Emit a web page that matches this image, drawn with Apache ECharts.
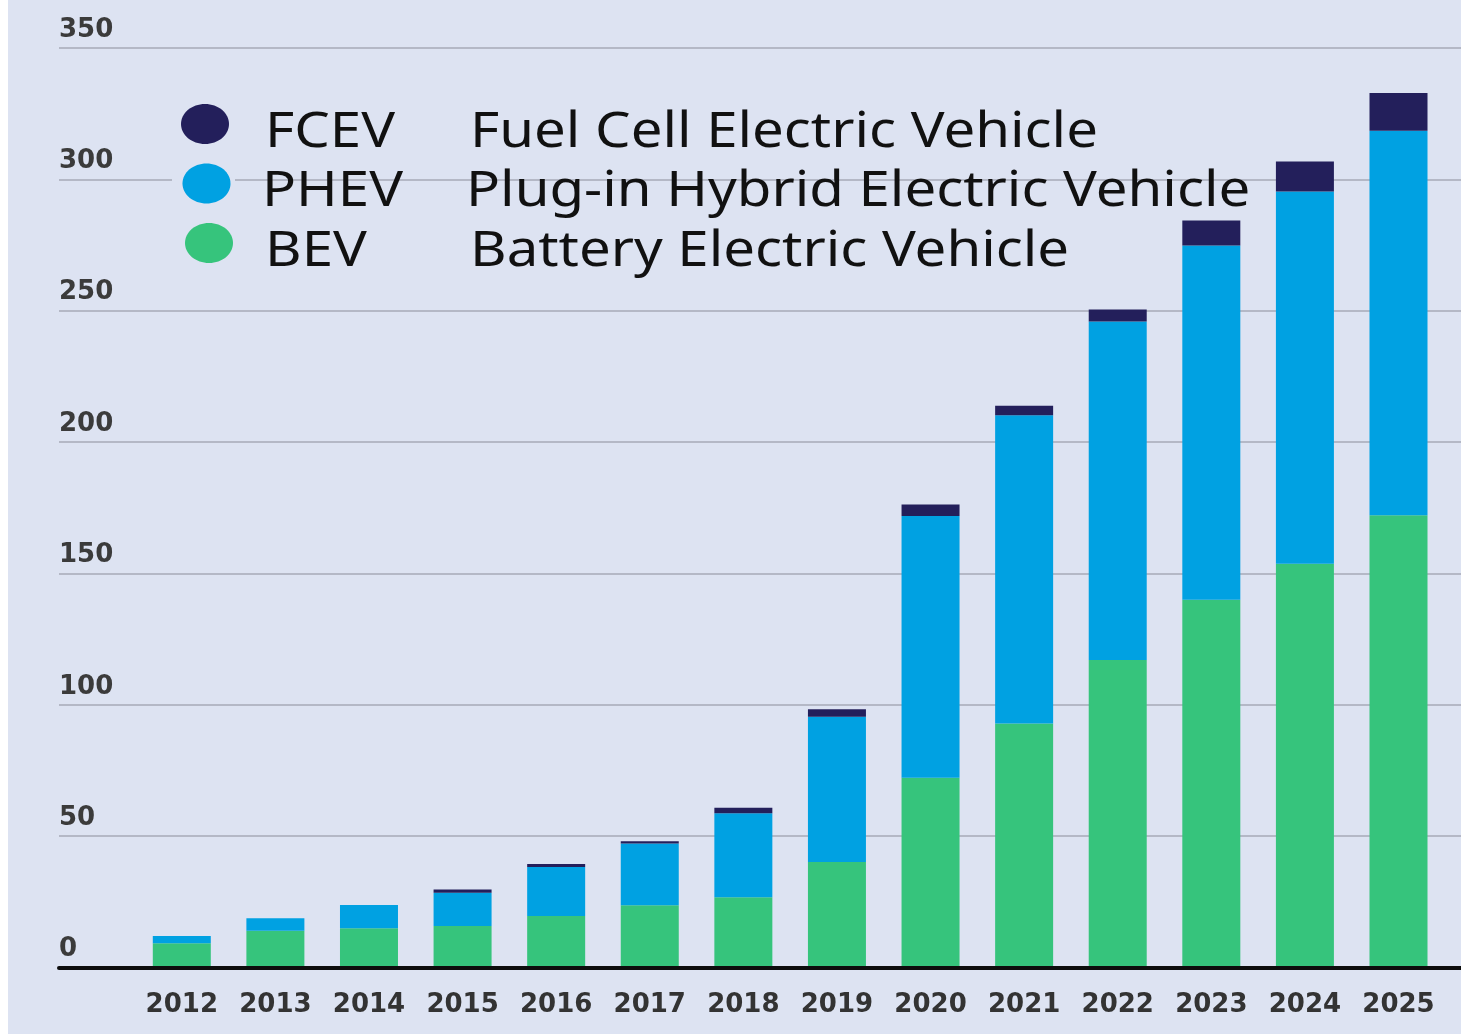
<!DOCTYPE html>
<html>
<head>
<meta charset="utf-8">
<title>Electric vehicle stock by type, 2012–2025</title>
<script src="https://cdn.jsdelivr.net/npm/echarts@6/dist/echarts.min.js"></script>
<style>
  html, body { margin: 0; padding: 0; background: #ffffff; }
  #chart { position: absolute; left: 8px; top: 0; width: 1453px; height: 1034px; background: #dde3f2; }
</style>
</head>
<body>
<div id="chart"></div>
<script>
// Years on the category axis
const years = ['2012', '2013', '2014', '2015', '2016', '2017', '2018', '2019', '2020', '2021', '2022', '2023', '2024', '2025'];

// Stacked values per vehicle type
const bevValues  = [9.2, 14.0, 14.9, 15.8, 19.6, 23.7, 26.7, 40.2, 72.2, 92.9, 117.0, 140.0, 153.7, 172.1];
const phevValues = [2.8, 4.7, 8.9, 12.7, 18.7, 23.5, 32.0, 55.2, 99.7, 117.3, 128.9, 134.8, 141.7, 146.4];
const fcevValues = [0, 0, 0, 1.2, 1.1, 0.9, 2.1, 2.9, 4.3, 3.6, 4.6, 9.5, 11.4, 14.4];

// Legend entries: short name and full description
const typeNames = ['FCEV', 'PHEV', 'BEV'];
const typeDescriptions = [
  'Fuel Cell Electric Vehicle',
  'Plug-in Hybrid Electric Vehicle',
  'Battery Electric Vehicle'
];

// Value axis range and tick step
const yMin = 0;
const yMax = 350;
const yStep = 50;

const bgColor = '#dde3f2';
const colors = { BEV: '#36c47c', PHEV: '#00a1e2', FCEV: '#231f5b' };

const chart = echarts.init(document.getElementById('chart'), null, { renderer: 'canvas' });

// Key block in the upper left: ellipse swatch, abbreviation, full name.
// The lettering is slightly widened horizontally.
const keyRows = [
  { cx: 197, cy: 124, nameX: 257, descX: 462, midY: 133 },
  { cx: 198.5, cy: 183.5, nameX: 254, descX: 458, midY: 192 },
  { cx: 201, cy: 243, nameX: 257, descX: 462, midY: 252 }
];
const keyFont = { fontFamily: 'Noto Sans', fontSize: 49, fill: '#111111', verticalAlign: 'middle', align: 'left' };
const keyStretch = 1.15;
const keyGraphics = [];
typeNames.forEach(function (name, i) {
  const row = keyRows[i];
  // background patch behind the swatch so gridlines stop short of it
  keyGraphics.push({
    type: 'rect', z: 100,
    shape: { x: 164, y: row.cy - 22, width: 63, height: 44 },
    style: { fill: bgColor },
    silent: true
  });
  keyGraphics.push({
    type: 'ellipse', z: 101,
    shape: { cx: row.cx, cy: row.cy, rx: 24, ry: 20 },
    style: { fill: colors[name] },
    silent: true
  });
  keyGraphics.push({
    type: 'text', z: 101,
    x: row.nameX, y: row.midY, scaleX: keyStretch,
    style: Object.assign({ text: name }, keyFont),
    silent: true
  });
  keyGraphics.push({
    type: 'text', z: 101,
    x: row.descX, y: row.midY, scaleX: keyStretch,
    style: Object.assign({ text: typeDescriptions[i] }, keyFont),
    silent: true
  });
});

const option = {
  backgroundColor: bgColor,
  animation: false,
  textStyle: { fontFamily: 'DejaVu Sans' },
  legend: { show: false, data: typeNames },
  graphic: { elements: keyGraphics },
  grid: [
    // full-width grid carrying the gridlines, y labels and the baseline
    { left: 51, right: 0, top: 48, bottom: 66.5, containLabel: false },
    // grid holding the bars
    { left: 127, right: 15.7, top: 48, bottom: 66.5, containLabel: false }
  ],
  xAxis: [
    {
      gridIndex: 0,
      type: 'category',
      data: years,
      z: 10,
      axisLine: { show: true, onZero: false, lineStyle: { color: '#0d0d0d', width: 4 } },
      axisTick: { show: false },
      axisLabel: { show: false },
      splitLine: { show: false }
    },
    {
      gridIndex: 1,
      type: 'category',
      data: years,
      axisLine: { show: false },
      axisTick: { show: false },
      axisLabel: {
        show: true,
        interval: 0,
        margin: 25,
        fontFamily: 'DejaVu Sans',
        fontWeight: 'bold',
        fontSize: 26,
        color: '#333333'
      },
      splitLine: { show: false }
    }
  ],
  yAxis: [
    {
      gridIndex: 0,
      type: 'value',
      min: yMin,
      max: yMax,
      interval: yStep,
      axisLine: { show: false },
      axisTick: { show: false },
      axisLabel: {
        show: true,
        inside: true,
        margin: 0,
        align: 'left',
        verticalAlign: 'bottom',
        padding: [0, 0, 5, 0],
        fontFamily: 'DejaVu Sans',
        fontWeight: 'bold',
        fontSize: 26,
        color: '#3b3b3b'
      },
      splitLine: { show: true, lineStyle: { color: '#b4b8c6', width: 2 } }
    },
    {
      gridIndex: 1,
      type: 'value',
      min: yMin,
      max: yMax,
      interval: yStep,
      show: false
    }
  ],
  series: [
    {
      name: 'BEV', type: 'bar', stack: 'ev', xAxisIndex: 1, yAxisIndex: 1,
      barWidth: 58, data: bevValues, itemStyle: { color: colors.BEV }
    },
    {
      name: 'PHEV', type: 'bar', stack: 'ev', xAxisIndex: 1, yAxisIndex: 1,
      barWidth: 58, data: phevValues, itemStyle: { color: colors.PHEV }
    },
    {
      name: 'FCEV', type: 'bar', stack: 'ev', xAxisIndex: 1, yAxisIndex: 1,
      barWidth: 58, data: fcevValues, itemStyle: { color: colors.FCEV }
    }
  ]
};

chart.setOption(option);
</script>
</body>
</html>
